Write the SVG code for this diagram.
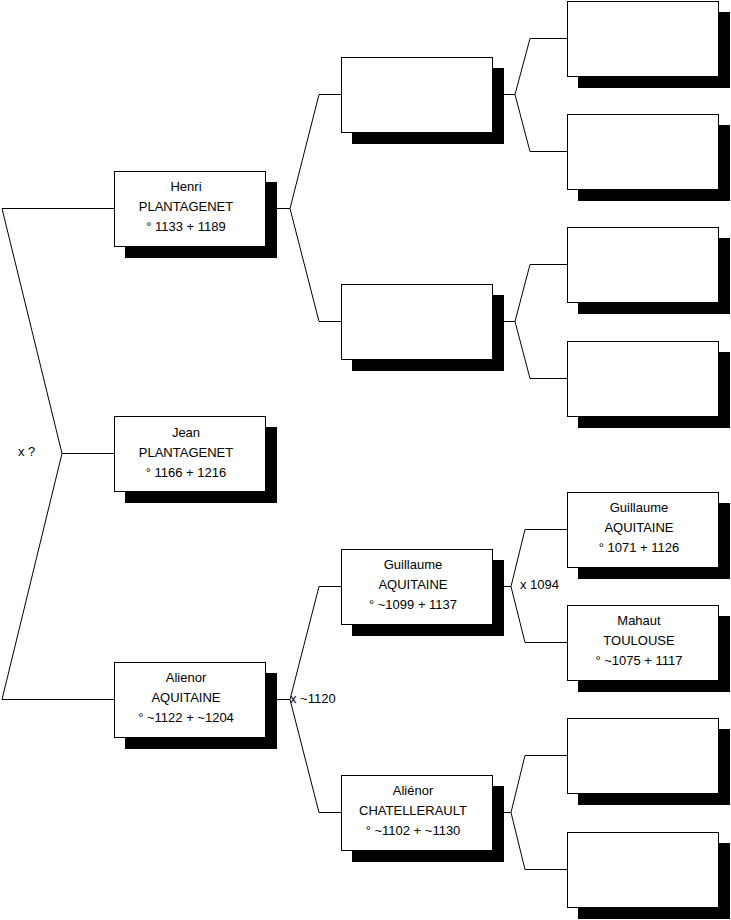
<svg xmlns="http://www.w3.org/2000/svg" width="731" height="920" viewBox="0 0 731 920">
<style>
.sh{fill:#000}
.bx{fill:#fff;stroke:#000;stroke-width:1}
.c{fill:none;stroke:#000;stroke-width:1}
text{font-family:"Liberation Sans",Arial,sans-serif;font-size:13px;fill:#000}
.t{text-anchor:middle}
</style>
<rect width="731" height="920" fill="#fff"/>
<g id="connectors" class="c">
<path d="M114,208.5 H2 L62,453.5 L2,699.5 H114 M62,453.5 H114"/>
<path d="M265,208.5 H290 L319,94.5 H341 M290,208.5 L319,321.5 H341"/>
<path d="M265,699.5 H290 L319,586.5 H341 M290,699.5 L319,812.5 H341"/>
<path d="M492,94.5 H515 L530,38.5 H567 M515,94.5 L530,151.5 H567"/>
<path d="M492,321.5 H515 L530,264.5 H567 M515,321.5 L530,378.5 H567"/>
<path d="M492,586.5 H511 L525,529.5 H567 M511,586.5 L525,642.5 H567"/>
<path d="M492,812.5 H511 L525,755.5 H567 M511,812.5 L525,869.5 H567"/>
</g>
<text x="18" y="456">x ?</text>
<text x="520" y="589">x 1094</text>
<text x="290" y="703">x ~1120</text>
<g id="henri">
<rect class="sh" x="125" y="182" width="152" height="76"/>
<rect class="bx" x="114.5" y="171.5" width="151" height="75"/>
<text class="t" x="186" y="191">Henri</text>
<text class="t" x="186" y="211">PLANTAGENET</text>
<text class="t" x="186" y="231">° 1133 + 1189</text>
</g>
<g id="jean">
<rect class="sh" x="125" y="427" width="152" height="76"/>
<rect class="bx" x="114.5" y="416.5" width="151" height="75"/>
<text class="t" x="186" y="437">Jean</text>
<text class="t" x="186" y="457">PLANTAGENET</text>
<text class="t" x="186" y="477">° 1166 + 1216</text>
</g>
<g id="alienor">
<rect class="sh" x="125" y="673" width="152" height="76"/>
<rect class="bx" x="114.5" y="662.5" width="151" height="75"/>
<text class="t" x="186" y="682">Alienor</text>
<text class="t" x="186" y="702">AQUITAINE</text>
<text class="t" x="186" y="722">° ~1122 + ~1204</text>
</g>
<g id="p1">
<rect class="sh" x="352" y="68" width="152" height="76"/>
<rect class="bx" x="341.5" y="57.5" width="151" height="75"/>
</g>
<g id="p2">
<rect class="sh" x="352" y="295" width="152" height="76"/>
<rect class="bx" x="341.5" y="284.5" width="151" height="75"/>
</g>
<g id="guillaume1099">
<rect class="sh" x="352" y="560" width="152" height="76"/>
<rect class="bx" x="341.5" y="549.5" width="151" height="75"/>
<text class="t" x="413" y="569">Guillaume</text>
<text class="t" x="413" y="589">AQUITAINE</text>
<text class="t" x="413" y="609">° ~1099 + 1137</text>
</g>
<g id="alienor-chatellerault">
<rect class="sh" x="352" y="786" width="152" height="76"/>
<rect class="bx" x="341.5" y="775.5" width="151" height="75"/>
<text class="t" x="413" y="795">Aliénor</text>
<text class="t" x="413" y="815">CHATELLERAULT</text>
<text class="t" x="413" y="835">° ~1102 + ~1130</text>
</g>
<g id="g1">
<rect class="sh" x="578" y="12" width="152" height="76"/>
<rect class="bx" x="567.5" y="1.5" width="151" height="75"/>
</g>
<g id="g2">
<rect class="sh" x="578" y="125" width="152" height="76"/>
<rect class="bx" x="567.5" y="114.5" width="151" height="75"/>
</g>
<g id="g3">
<rect class="sh" x="578" y="238" width="152" height="76"/>
<rect class="bx" x="567.5" y="227.5" width="151" height="75"/>
</g>
<g id="g4">
<rect class="sh" x="578" y="352" width="152" height="76"/>
<rect class="bx" x="567.5" y="341.5" width="151" height="75"/>
</g>
<g id="guillaume1071">
<rect class="sh" x="578" y="503" width="152" height="76"/>
<rect class="bx" x="567.5" y="492.5" width="151" height="75"/>
<text class="t" x="639" y="512">Guillaume</text>
<text class="t" x="639" y="532">AQUITAINE</text>
<text class="t" x="639" y="552">° 1071 + 1126</text>
</g>
<g id="mahaut">
<rect class="sh" x="578" y="616" width="152" height="76"/>
<rect class="bx" x="567.5" y="605.5" width="151" height="75"/>
<text class="t" x="639" y="625">Mahaut</text>
<text class="t" x="639" y="645">TOULOUSE</text>
<text class="t" x="639" y="665">° ~1075 + 1117</text>
</g>
<g id="g7">
<rect class="sh" x="578" y="729" width="152" height="76"/>
<rect class="bx" x="567.5" y="718.5" width="151" height="75"/>
</g>
<g id="g8">
<rect class="sh" x="578" y="843" width="152" height="76"/>
<rect class="bx" x="567.5" y="832.5" width="151" height="75"/>
</g>
</svg>
